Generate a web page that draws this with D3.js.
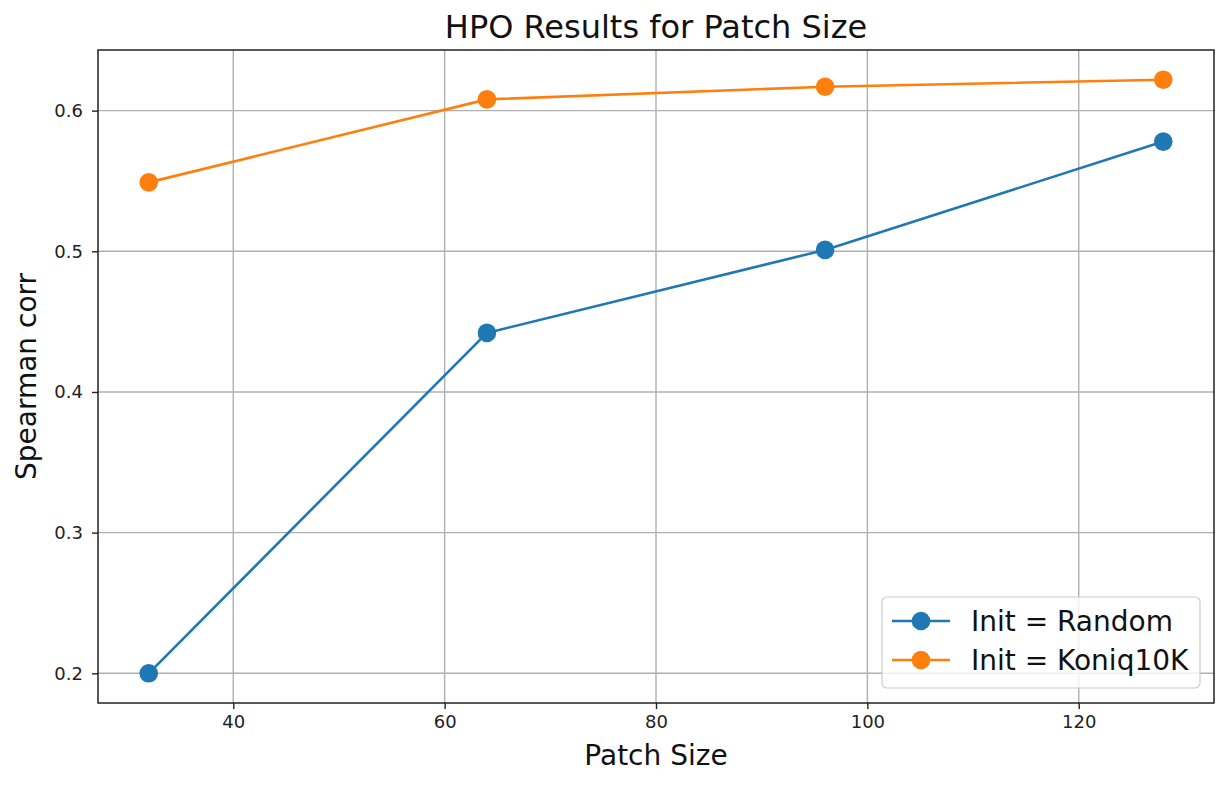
<!DOCTYPE html>
<html>
<head>
<meta charset="utf-8">
<script src="https://cdn.jsdelivr.net/npm/d3@7"></script>
<style>
  body { margin: 0; background: #fff; }
  svg { display: block; font-family: "DejaVu Sans", sans-serif; }
</style>
</head>
<body>
<svg id="chart" width="1228" height="786"></svg>
<script>
const patchSizes = [32, 64, 96, 128];
const randomInit = [0.200, 0.442, 0.501, 0.578];
const koniqInit = [0.549, 0.608, 0.617, 0.622];
const xTicks = [40, 60, 80, 100, 120];
const yTicks = [0.2, 0.3, 0.4, 0.5, 0.6];
const seriesNames = ["Init = Random", "Init = Koniq10K"];
const seriesColors = ["#1f77b4", "#ff7f0e"];

(function () {
const svg = d3.select("#chart");
const pL = 98, pR = 1214, pT = 50, pB = 703;

const x = d3.scaleLinear().domain([27.2, 132.8]).range([pL, pR]);
const y = d3.scaleLinear().domain([0.1789, 0.6431]).range([pB, pT]);

// grid
const grid = svg.append("g");
grid.selectAll("line.vx").data(xTicks).join("line")
  .attr("x1", d => x(d)).attr("x2", d => x(d)).attr("y1", pT).attr("y2", pB)
  .attr("stroke", "#b0b0b0").attr("stroke-width", 1.4);
grid.selectAll("line.hy").data(yTicks).join("line")
  .attr("y1", d => y(d)).attr("y2", d => y(d)).attr("x1", pL).attr("x2", pR)
  .attr("stroke", "#b0b0b0").attr("stroke-width", 1.4);

// axes
const xAxis = svg.append("g").attr("transform", `translate(0,${pB})`)
  .call(d3.axisBottom(x).tickValues(xTicks).tickSize(6).tickPadding(6).tickFormat(d3.format("d")));
const yAxis = svg.append("g").attr("transform", `translate(${pL},0)`)
  .call(d3.axisLeft(y).tickValues(yTicks).tickSize(6).tickPadding(9).tickFormat(d3.format(".1f")));
[xAxis, yAxis].forEach(a => {
  a.select(".domain").remove();
  a.selectAll(".tick line").attr("stroke", "#222").attr("stroke-width", 1.4);
  a.selectAll(".tick text").attr("fill", "#222").style("font-size", "18px").style("font-family", "DejaVu Sans");
});

// frame
svg.append("rect").attr("x", pL).attr("y", pT).attr("width", pR - pL).attr("height", pB - pT)
  .attr("fill", "none").attr("stroke", "#222").attr("stroke-width", 1.5);

// series
const allSeries = [randomInit, koniqInit];
const line = d3.line().x((d, i) => x(patchSizes[i])).y(d => y(d));
allSeries.forEach((vals, si) => {
  const g = svg.append("g");
  g.append("path").datum(vals).attr("d", line).attr("fill", "none")
    .attr("stroke", seriesColors[si]).attr("stroke-width", 2.6);
  g.selectAll("circle").data(vals).join("circle")
    .attr("cx", (d, i) => x(patchSizes[i])).attr("cy", d => y(d)).attr("r", 9.3)
    .attr("fill", seriesColors[si]);
});

// title & labels
svg.append("text").attr("x", (pL + pR) / 2).attr("y", 38).attr("text-anchor", "middle")
  .style("font-size", "32px").attr("fill", "#111").text("HPO Results for Patch Size");
svg.append("text").attr("x", (pL + pR) / 2).attr("y", 765).attr("text-anchor", "middle")
  .style("font-size", "28px").attr("fill", "#111").text("Patch Size");
svg.append("text").attr("transform", `translate(36,${(pT + pB) / 2}) rotate(-90)`).attr("text-anchor", "middle")
  .style("font-size", "28px").attr("fill", "#111").text("Spearman corr");

// legend
const lg = svg.append("g");
lg.append("rect").attr("x", 882).attr("y", 597).attr("width", 318).attr("height", 91).attr("rx", 5)
  .attr("fill", "#fff").attr("fill-opacity", 0.8).attr("stroke", "#ccc").attr("stroke-width", 1.2);
seriesNames.forEach((name, i) => {
  const cy = 621 + i * 39;
  lg.append("line").attr("x1", 892).attr("x2", 950).attr("y1", cy).attr("y2", cy)
    .attr("stroke", seriesColors[i]).attr("stroke-width", 2.6);
  lg.append("circle").attr("cx", 921).attr("cy", cy).attr("r", 9.3).attr("fill", seriesColors[i]);
  lg.append("text").attr("x", 971).attr("y", cy).attr("dy", "0.35em")
    .style("font-size", "28px").attr("fill", "#111").text(name);
});
})();
</script>
</body>
</html>
